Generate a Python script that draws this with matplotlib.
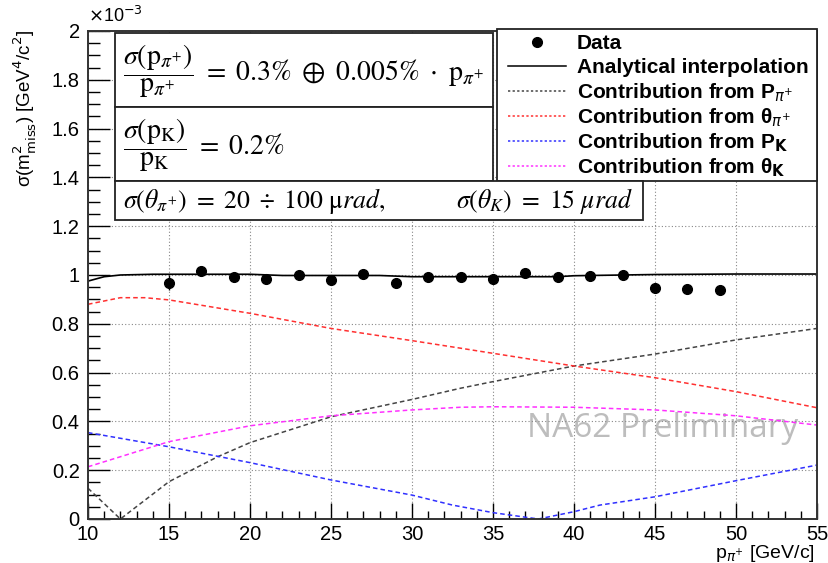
import matplotlib
matplotlib.use("Agg")
import matplotlib.pyplot as plt
from matplotlib.font_manager import FontProperties
from matplotlib.patches import Rectangle
from matplotlib.lines import Line2D

# ---------------- data (in units of 1e-3 GeV^4/c^2) ----------------
data_x = [15, 17, 19, 21, 23, 25, 27, 29, 31, 33, 35, 37, 39, 41, 43, 45, 47, 49]
data_y = [0.968, 1.016, 0.993, 0.985, 1.001, 0.981, 1.004, 0.968, 0.991, 0.991,
          0.982, 1.007, 0.991, 0.995, 1.001, 0.948, 0.943, 0.937]
data_err = [0.03, 0.015, 0.01, 0.01, 0.01, 0.01, 0.01, 0.01, 0.01, 0.01,
            0.01, 0.01, 0.01, 0.01, 0.01, 0.01, 0.01, 0.01]

interp_x = [10, 11, 12, 14, 20, 22, 28, 30, 39, 40, 45, 50, 55]
interp_y = [0.975, 0.993, 1.0, 1.003, 1.003, 0.998, 0.998, 0.993, 0.993, 0.997, 1.002, 1.004, 1.004]

ppi_x = [10, 12, 15, 18, 20, 25, 30, 33, 35, 40, 45, 50, 55]
ppi_y = [0.126, 0.0, 0.153, 0.255, 0.313, 0.419, 0.490, 0.536, 0.563, 0.627, 0.676, 0.734, 0.781]

tpi_x = [10, 12, 13.5, 15, 20, 25, 30, 33, 35, 40, 45, 50, 55]
tpi_y = [0.880, 0.907, 0.907, 0.898, 0.843, 0.781, 0.731, 0.700, 0.679, 0.627, 0.579, 0.522, 0.456]

pk_x = [10, 15, 20, 25, 30, 32.5, 35, 37.8, 40, 41.6, 45, 50, 55]
pk_y = [0.354, 0.296, 0.231, 0.160, 0.098, 0.057, 0.026, 0.0, 0.030, 0.057, 0.091, 0.157, 0.221]

tk_x = [10, 15, 20, 25, 30, 33, 35, 40, 45, 50, 55]
tk_y = [0.214, 0.317, 0.382, 0.423, 0.447, 0.458, 0.460, 0.458, 0.447, 0.423, 0.385]

x_ticks = [10, 15, 20, 25, 30, 35, 40, 45, 50, 55]
y_ticks = [0, 0.2, 0.4, 0.6, 0.8, 1.0, 1.2, 1.4, 1.6, 1.8, 2.0]
y_ticklabels = ["0", "0.2", "0.4", "0.6", "0.8", "1", "1.2", "1.4", "1.6", "1.8", "2"]

legend_labels = [
    "Data",
    "Analytical interpolation",
    r"Contribution from P$_{\pi^{+}}$",
    r"Contribution from θ$_{\pi^{+}}$",
    r"Contribution from P$_{\mathbf{K}}$",
    r"Contribution from θ$_{\mathbf{K}}$",
]

# ---------------- figure ----------------
W, H = 829, 563
fig = plt.figure(figsize=(W / 100, H / 100), dpi=100)
L, R, T, B = 88, 817, 31, 519
ax = fig.add_axes([L / W, 1 - B / H, (R - L) / W, (B - T) / H])

sans = "Liberation Sans"

ax.set_xlim(10, 55)
ax.set_ylim(0, 2.0)
ax.set_xticks(x_ticks)
ax.set_xticklabels([str(v) for v in x_ticks], fontfamily=sans, fontsize=14.5)
ax.set_yticks(y_ticks)
ax.set_yticklabels(y_ticklabels, fontfamily=sans, fontsize=14.5)
ax.set_xticks([v for v in range(10, 56)], minor=True)
ax.set_yticks([i * 0.05 for i in range(41)], minor=True)
ax.tick_params(axis="y", which="major", direction="in", length=16, width=1.0, pad=6)
ax.tick_params(axis="y", which="minor", direction="in", length=8.5, width=1.0)
ax.tick_params(axis="x", which="major", direction="in", length=11.5, width=1.0, pad=4)
ax.tick_params(axis="x", which="minor", direction="in", length=6, width=1.0)
ax.grid(True, which="major", linestyle=(0, (1, 2)), color="#888888", linewidth=0.8)
for s in ax.spines.values():
    s.set_linewidth(1.4)
    s.set_color("#333333")

dash = (0, (3, 2))
c_ppi, c_tpi, c_pk, c_tk = "#444444", "#ff3030", "#3030ff", "#ff30ff"
ax.plot(ppi_x, ppi_y, color=c_ppi, lw=1.1, linestyle=dash)
ax.plot(tpi_x, tpi_y, color=c_tpi, lw=1.1, linestyle=dash)
ax.plot(pk_x, pk_y, color=c_pk, lw=1.1, linestyle=dash)
ax.plot(tk_x, tk_y, color=c_tk, lw=1.1, linestyle=dash)
ax.plot(interp_x, interp_y, color="black", lw=1.2)
ax.errorbar(data_x, data_y, yerr=data_err, fmt="o", color="black", ms=7, elinewidth=1, capsize=0)

ax.text(45.5, 0.37, "NA62 Preliminary", fontfamily="Open Sans", fontsize=24,
        color="#bdbdbd", ha="center", va="center", zorder=1)

# axis labels
fig.text(25 / W, 1 - 30 / H, r"σ(m$^{2}_{\rm miss}$) [GeV$^{4}$/c$^{2}$]",
         fontproperties=FontProperties(family=sans, size=13.5, math_fontfamily="dejavusans"),
         rotation=90, ha="center", va="top")
fig.text(815 / W, 1 - 558 / H, r"p$_{\pi^{+}}$ [GeV/c]",
         fontproperties=FontProperties(family=sans, size=14, math_fontfamily="dejavusans"),
         ha="right", va="baseline")
fig.text(88 / W, 1 - 22 / H, r"$\times$10$^{-3}$",
         fontproperties=FontProperties(family=sans, size=13, math_fontfamily="dejavusans"),
         ha="left", va="baseline")

# formula boxes
def fbox(x0, y0, x1, y1, z=5):
    fig.add_artist(Rectangle((x0 / W, 1 - y1 / H), (x1 - x0) / W, (y1 - y0) / H,
                             transform=fig.transFigure, facecolor="white",
                             edgecolor="#222222", lw=1.3, zorder=z))

fbox(115, 33, 493, 107)
fbox(115, 107, 493, 181)
mp = FontProperties(size=20, math_fontfamily="stix")
mp3 = FontProperties(size=18.5, math_fontfamily="stix")
fig.text(123 / W, 1 - 71 / H,
         r"$\dfrac{\sigma(\mathrm{p}_{\pi^{+}})}{\mathrm{p}_{\pi^{+}}}\ =\ 0.3\%\ \oplus\ 0.005\%\ \cdot\ \mathrm{p}_{\pi^{+}}$",
         fontproperties=mp, ha="left", va="center", zorder=6)
fig.text(123 / W, 1 - 145 / H,
         r"$\dfrac{\sigma(\mathrm{p_K})}{\mathrm{p_K}}\ =\ 0.2\%$",
         fontproperties=mp, ha="left", va="center", zorder=6)

# legend (manual, fixed row positions)
fbox(497, 29, 817, 181, z=7)
fbox(115, 181, 643, 220, z=8)
fig.text(123 / W, 1 - 201 / H,
         r"$\sigma(\theta_{\pi^{+}})\ =\ 20\ \div\ 100\ \mathrm{\mu} rad,$",
         fontproperties=mp3, ha="left", va="center", zorder=9)
fig.text(456 / W, 1 - 201 / H,
         r"$\sigma(\theta_{K})\ =\ 15\ \mu rad$",
         fontproperties=mp3, ha="left", va="center", zorder=9)

lp = FontProperties(family=sans, weight="bold", size=15, math_fontfamily="dejavusans")
rows = [42, 66, 91, 116, 141, 166]
hx0, hx1, tx = 508 / W, 566 / W, 577 / W
styles = [None, ("black", "-"), (c_ppi, (0, (1.5, 1.5))), (c_tpi, (0, (1.5, 1.5))),
          (c_pk, (0, (1.5, 1.5))), (c_tk, (0, (1.5, 1.5)))]
for yy, lab, st in zip(rows, legend_labels, styles):
    yf = 1 - yy / H
    if st is None:
        fig.add_artist(Line2D([(hx0 + hx1) / 2], [yf], marker="o", color="black", ms=7,
                              transform=fig.transFigure, zorder=8))
    else:
        fig.add_artist(Line2D([hx0, hx1], [yf, yf], color=st[0], ls=st[1], lw=1.1,
                              transform=fig.transFigure, zorder=8))
    fig.text(tx, 1 - (yy + 7) / H, lab, fontproperties=lp, ha="left", va="baseline", zorder=8)

fig.savefig("out.png", dpi=100)
